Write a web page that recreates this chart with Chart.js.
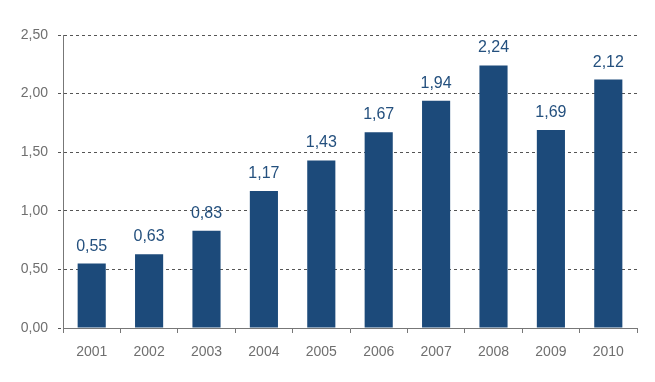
<!DOCTYPE html>
<html><head><meta charset="utf-8">
<script src="https://cdn.jsdelivr.net/npm/chart.js"></script>
<style>html,body{margin:0;padding:0;background:#fff}#c{display:block}</style>
</head><body>
<canvas id="c" width="655" height="382"></canvas>
<script>
const categories = ["2001","2002","2003","2004","2005","2006","2007","2008","2009","2010"];
const values = [0.55,0.63,0.83,1.17,1.43,1.67,1.94,2.24,1.69,2.12];
const yTicks = [0,0.5,1,1.5,2,2.5];
const fmt = v => v.toFixed(2).replace('.', ',');

const labelPlugin = {
  id: 'vlabels',
  afterDatasetsDraw(chart) {
    const ctx = chart.ctx;
    const meta = chart.getDatasetMeta(0);
    ctx.save();
    ctx.font = '16px "Liberation Sans", Arial, sans-serif';
    ctx.fillStyle = '#24507e';
    ctx.textAlign = 'center';
    ctx.textBaseline = 'alphabetic';
    meta.data.forEach((bar, i) => {
      ctx.fillText(fmt(values[i]), bar.x, bar.y - 13);
    });
    ctx.restore();
  }
};

new Chart(document.getElementById('c'), {
  type: 'bar',
  data: { labels: categories, datasets: [{ data: values, backgroundColor: '#1c4a7a', categoryPercentage: 1, barPercentage: 0.49 }] },
  options: {
    responsive: false, animation: false,
    layout: { padding: { top: 35, right: 18, left: 0, bottom: 0 } },
    plugins: { legend: { display: false }, tooltip: { enabled: false } },
    scales: {
      x: {
        grid: { offset: true, drawOnChartArea: false, drawTicks: true, tickLength: 5, color: '#777' },
        border: { color: '#777' },
        ticks: { color: '#6f6f6f', font: { size: 14, family: '"Liberation Sans", Arial, sans-serif' }, padding: 11 },
        afterFit(s) { s.height = 54; }
      },
      y: {
        min: 0, max: 2.5,
        afterBuildTicks(s) { s.ticks = yTicks.map(v => ({ value: v })); },
        grid: { color: '#555', tickLength: 5, drawTicks: true, tickBorderDash: [3,3] },
        border: { color: '#777', dash: [3,3] },
        ticks: { color: '#6f6f6f', font: { size: 14, family: '"Liberation Sans", Arial, sans-serif' }, padding: 10, callback: v => fmt(v) },
        afterFit(s) { s.width = 63; }
      }
    }
  },
  plugins: [labelPlugin]
});
</script>
</body></html>
